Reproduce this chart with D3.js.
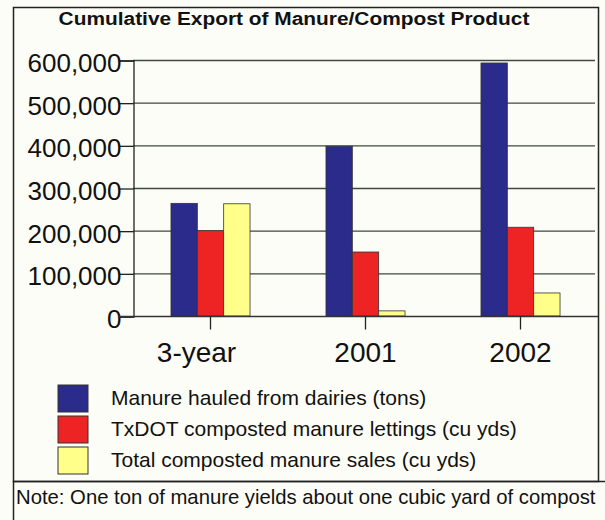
<!DOCTYPE html>
<html>
<head>
<meta charset="utf-8">
<script src="https://cdn.jsdelivr.net/npm/d3@7"></script>
<style>
  body { margin: 0; background: #fdfdf7; }
  text { font-family: "Liberation Sans", Arial, sans-serif; fill: #111; }
</style>
</head>
<body>
<script>
var categories = ["3-year", "2001", "2002"];
var seriesNames = [
    "Manure hauled from dairies (tons)",
    "TxDOT composted manure lettings (cu yds)",
    "Total composted manure sales (cu yds)"
];
var manureHauled = [264000, 398000, 593000];
var txdotLettings = [200000, 150000, 208000];
var compostSales = [263000, 12000, 54000];
var yTicks = [0, 100000, 200000, 300000, 400000, 500000, 600000];
var colors = ["#2b2b8c", "#ee2424", "#ffff8a"];

var series = [manureHauled, txdotLettings, compostSales];

var W = 605, H = 520;
var svg = d3.select("body").append("svg")
    .attr("width", W)
    .attr("height", H);

// stretch a text horizontally around its anchor point
function stretch(sel, sx) {
    sel.each(function() {
        var t = d3.select(this);
        var x = +t.attr("x") || 0, y = +t.attr("y") || 0;
        t.attr("x", 0).attr("y", 0)
            .attr("transform", "translate(" + x + "," + y + ") scale(" + sx + ",1)");
    });
}

// outer frame and note box
svg.append("rect")
    .attr("x", 13.5).attr("y", 7.5)
    .attr("width", 585).attr("height", 474)
    .attr("fill", "none").attr("stroke", "#222").attr("stroke-width", 1.5);
svg.append("rect")
    .attr("x", 13.5).attr("y", 481.5)
    .attr("width", 600).attr("height", 60)
    .attr("fill", "none").attr("stroke", "#222").attr("stroke-width", 1.5);

svg.append("text")
    .attr("x", 294).attr("y", 25)
    .attr("text-anchor", "middle")
    .style("font-weight", "bold").style("font-size", "18px")
    .text("Cumulative Export of Manure/Compost Product")
    .call(stretch, 1.16);

var x0 = d3.scaleBand()
    .domain(categories)
    .range([133, 598]);
var x1 = d3.scaleBand()
    .domain(d3.range(series.length))
    .range([x0.bandwidth() * 0.245, x0.bandwidth() * 0.755]);
var y = d3.scaleLinear()
    .domain([0, 600000])
    .range([316, 60]);

// gridlines
svg.append("g")
    .selectAll("line")
    .data(yTicks.slice(1))
    .join("line")
    .attr("x1", 133).attr("x2", 595)
    .attr("y1", function(d) { return y(d) + 0.5; })
    .attr("y2", function(d) { return y(d) + 0.5; })
    .attr("stroke", "#3e4a3e").attr("stroke-width", 1.3);

// y axis
var yAxis = svg.append("g")
    .attr("transform", "translate(133.5,0.5)")
    .call(d3.axisLeft(y).tickValues(yTicks).tickSize(14).tickPadding(-2)
        .tickFormat(d3.format(",")));
yAxis.select(".domain").attr("stroke", "#222").attr("stroke-width", 1.3);
yAxis.selectAll(".tick line").attr("stroke", "#222").attr("stroke-width", 1.3);
yAxis.selectAll(".tick text")
    .style("font-size", "26px")
    .style("font-family", "Liberation Sans, Arial, sans-serif")
    .attr("fill", "#111")
    .attr("dy", "0.42em");

// bars
var group = svg.append("g")
    .selectAll("g")
    .data(categories)
    .join("g")
    .attr("transform", function(d) { return "translate(" + x0(d) + ",0)"; });
group.selectAll("rect")
    .data(function(d, i) { return series.map(function(s, k) { return { k: k, v: s[i] }; }); })
    .join("rect")
    .attr("x", function(d) { return x1(d.k); })
    .attr("width", x1.bandwidth())
    .attr("y", function(d) { return y(d.v); })
    .attr("height", function(d) { return y(0) - y(d.v); })
    .attr("fill", function(d) { return colors[d.k]; })
    .attr("stroke", "#333").attr("stroke-width", 0.8);

// zero line and x axis
svg.append("line")
    .attr("x1", 119).attr("x2", 598)
    .attr("y1", y(0) + 0.5).attr("y2", y(0) + 0.5)
    .attr("stroke", "#333").attr("stroke-width", 1.3);
var xAxis = svg.append("g")
    .attr("transform", "translate(0," + (y(0) + 0.5) + ")")
    .call(d3.axisBottom(x0).tickSize(13).tickPadding(13));
xAxis.select(".domain").remove();
xAxis.selectAll(".tick line").attr("stroke", "#222").attr("stroke-width", 1.3);
xAxis.selectAll(".tick text")
    .style("font-size", "28px")
    .style("font-family", "Liberation Sans, Arial, sans-serif")
    .attr("fill", "#111")
    .attr("dx", function(d) { return d === "3-year" ? -14 : 0; });

// legend
var legend = svg.append("g")
    .selectAll("g")
    .data(seriesNames)
    .join("g")
    .attr("transform", function(d, i) { return "translate(58," + (385 + i * 31) + ")"; });
legend.append("rect")
    .attr("width", 30).attr("height", 27)
    .attr("fill", function(d, i) { return colors[i]; })
    .attr("stroke", "#333").attr("stroke-width", 1);
legend.append("text")
    .attr("x", 53).attr("y", 20)
    .style("font-size", "21px")
    .text(function(d) { return d; });

svg.append("text")
    .attr("x", 16).attr("y", 504)
    .style("font-size", "20.3px")
    .text("Note: One ton of manure yields about one cubic yard of compost");
</script>
</body>
</html>
